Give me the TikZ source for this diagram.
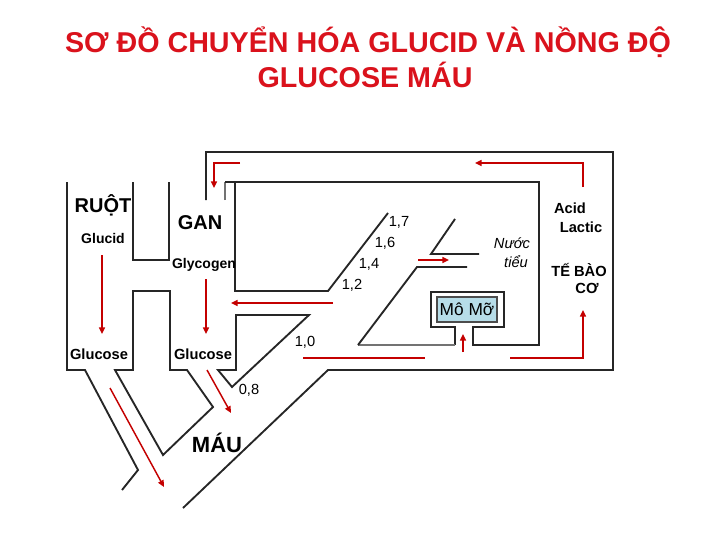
\documentclass[tikz,border=0pt]{standalone}
\usepackage{fontspec}
\setmainfont{Liberation Sans}
\usetikzlibrary{arrows.meta}
\definecolor{titlered}{RGB}{218,18,28}
\definecolor{arrred}{RGB}{196,0,0}
\definecolor{fatfill}{RGB}{183,221,232}
\begin{document}
\begin{tikzpicture}[x=0.75pt,y=-0.75pt,
  wall/.style={draw=black!85, line width=1.4pt, line join=miter},
  thinwall/.style={draw=black!55, line width=0.9pt},
  flow/.style={draw=arrred, line width=1.1pt, -{Triangle[length=5pt,width=4.5pt]}},
  flowline/.style={draw=arrred, line width=1.1pt},
  lbl/.style={font=\fontsize{11}{13}\selectfont\bfseries, inner sep=0pt},
  big/.style={font=\fontsize{15}{18}\selectfont\bfseries, inner sep=0pt},
  num/.style={font=\fontsize{11}{13}\selectfont, inner sep=0pt},
  ttl/.style={font=\fontsize{21.5}{26}\selectfont\bfseries, text=titlered, inner sep=0pt, anchor=base},
]
\useasboundingbox (0,0) rectangle (728,546);
\fill[white] (0,0) rectangle (728,546);

% title
\node[ttl] (t1) at (368,52) {SƠ ĐỒ CHUYỂN HÓA GLUCID VÀ NỒNG ĐỘ};
\node[ttl] (t2) at (365,87) {GLUCOSE MÁU};

% walls
\draw[wall] (67,182) -- (67,370) -- (85,370) -- (138,470) -- (122,490);
\draw[wall] (133,182) -- (133,260) -- (169,260) -- (169,182);
\draw[wall] (133,291) -- (133,370) -- (115,370) -- (163,455) -- (213,407) -- (187,370) -- (170,370) -- (170,291) -- cycle;
\draw[wall] (206,200) -- (206,152) -- (613,152) -- (613,370) -- (328,370) -- (183,508);
\draw[thinwall] (225,200) -- (225,182);
\draw[wall] (225,182) -- (539,182) -- (539,345) -- (473,345) -- (473,327) -- (504,327) -- (504,292) -- (431,292) -- (431,327) -- (455,327) -- (455,345);
\draw[thinwall] (455,345) -- (358,345);
\draw[wall] (358,345) -- (417,267) -- (467,267);
\draw[wall] (235,182) -- (235,291) -- (328,291) -- (388,213);
\draw[wall] (455,219) -- (431,254) -- (479,254);
\draw[wall] (236,370) -- (236,315) -- (309,315) -- (232,387) -- (218,370) -- cycle;

% red flows
\draw[flow] (240,163) -- (214,163) -- (214,188);
\draw[flow] (583,187) -- (583,163) -- (475,163);
\draw[flow] (102,255) -- (102,334);
\draw[flow] (206,279) -- (206,334);
\draw[flow] (333,303) -- (231,303);
\draw[flow] (418,260) -- (449,260);
\draw[flow] (463,352) -- (463,334);
\draw[flowline] (303,358) -- (425,358);
\draw[flow] (510,358) -- (583,358) -- (583,310);
\draw[flow] (110,388) -- (164,487);
\draw[flow] (207,370) -- (231,413);

% labels
\node[big] (ruot) at (103,205) {RUỘT};
\node[lbl, font=\fontsize{10.5}{13}\selectfont\bfseries] (glucid) at (103,238) {Glucid};
\node[big] (gan) at (200,223) {GAN};
\node[lbl, font=\fontsize{10.5}{13}\selectfont\bfseries] (glycogen) at (204,265) {Glycogen};
\node[lbl] (glu1) at (99,354) {Glucose};
\node[lbl] (glu2) at (203,354) {Glucose};
\node[big, font=\fontsize{16.5}{19}\selectfont\bfseries] (mau) at (217,443) {MÁU};
\node[num] (n08) at (249,390) {0,8};
\node[num] (n10) at (305,342) {1,0};
\node[num] (n12) at (352,285) {1,2};
\node[num] (n14) at (369,264) {1,4};
\node[num] (n16) at (385,243) {1,6};
\node[num] (n17) at (399,222) {1,7};
\node[num, font=\fontsize{11}{13}\selectfont\itshape] (nuoc) at (512,243) {Nước};
\node[num, font=\fontsize{11}{13}\selectfont\itshape] (tieu) at (516,262) {tiểu};
\node[draw=black!70, fill=fatfill, line width=0.8pt, minimum width=45pt, minimum height=18.75pt, inner sep=0pt, font=\fontsize{13}{15}\selectfont] (momo) at (467,309.5) {Mô Mỡ};
\node[lbl] (acid) at (570,208) {Acid};
\node[lbl] (lactic) at (581,227) {Lactic};
\node[lbl] (tebao) at (579,270) {TẾ BÀO};
\node[lbl] (co) at (587,288) {CƠ};
\end{tikzpicture}
\end{document}
